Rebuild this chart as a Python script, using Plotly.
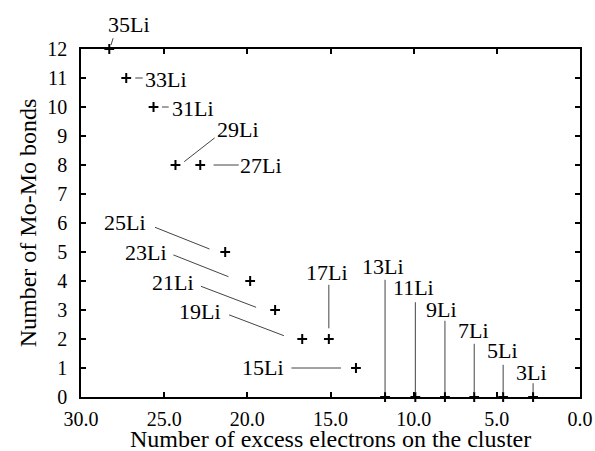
import plotly.graph_objects as go

# ---- data ----
labels = ["35Li", "33Li", "31Li", "29Li", "27Li", "25Li", "23Li", "21Li", "19Li",
          "17Li", "15Li", "13Li", "11Li", "9Li", "7Li", "5Li", "3Li"]
excess_electrons = [28.30, 27.28, 25.64, 24.32, 22.83, 21.33, 19.83, 18.33, 16.70,
                    15.10, 13.47, 11.72, 9.90, 8.12, 6.36, 4.62, 2.82]
mo_mo_bonds = [12, 11, 10, 8, 8, 5, 4, 3, 2, 2, 1, 0, 0, 0, 0, 0, 0]
x_ticks = [30, 25, 20, 15, 10, 5, 0]
y_ticks = list(range(0, 13))
x_title = "Number of excess electrons on the cluster"
y_title = "Number of Mo-Mo bonds"

# ---- label placement (pixel offsets from each point; +dx right, +dy down) ----
text_offset = [(20, -25), (40, 1), (39, 1), (63, -36), (61, 0), (-100, -30), (-104, -29),
               (-102, -28), (-102, -28), (-2, -67), (-93, -1), (-2, -131), (-1.5, -110),
               (-3, -88), (-1, -67), (-1, -47), (-2, -25)]
line_near = [(1.7, -4), (9, 0), (8.4, 0), (8.7, -3.3), (13.3, 0), (-15.7, -3), (-21.7, -4.3),
             (-19, -2.7), (-18.3, -3.3), (0, -10.7), (-15, 0), (0, -4), (0, -4), (0, -4),
             (0, -4), (0, -4), (0, -4)]
line_far = [(4.3, -12.3), (18, 0), (16.7, 0), (40.7, -28.3), (40, 0), (-71.7, -25.3),
            (-78.3, -26.7), (-75.7, -24.3), (-74.6, -24.7), (0, -55.7), (-66, 0),
            (0, -118.7), (0, -96.3), (0, -77.7), (0, -54.7), (0, -33.7), (0, -15.3)]

FONT = "Liberation Serif, Times New Roman, serif"

fig = go.Figure()
fig.add_trace(go.Scatter(
    x=excess_electrons, y=mo_mo_bonds, mode="markers",
    marker=dict(symbol="cross-thin", size=7, line=dict(color="black", width=2)),
    cliponaxis=False, showlegend=False, hoverinfo="skip"))

annotations = []
for i, lab in enumerate(labels):
    xv, yv = excess_electrons[i], mo_mo_bonds[i]
    tdx, tdy = text_offset[i]
    annotations.append(dict(x=xv, y=yv, xref="x", yref="y", text=lab, showarrow=False,
                            xshift=tdx, yshift=-tdy, xanchor="center", yanchor="middle",
                            font=dict(family=FONT, size=22, color="black")))
    ndx, ndy = line_near[i]
    fdx, fdy = line_far[i]
    annotations.append(dict(x=xv, y=yv, xref="x", yref="y", text="", showarrow=True,
                            arrowhead=0, arrowwidth=1, arrowcolor="#444", standoff=0,
                            xshift=ndx, yshift=-ndy, ax=fdx - ndx, ay=fdy - ndy,
                            axref="pixel", ayref="pixel"))

# x-axis title placed as a paper-anchored text for exact vertical position
annotations.append(dict(x=0.5, y=0, xref="paper", yref="paper", text=x_title,
                        showarrow=False, xanchor="center", yanchor="middle", yshift=-42,
                        font=dict(family=FONT, size=24, color="black")))

axis_common = dict(showline=True, linecolor="black", linewidth=1.5, mirror="ticks",
                   ticks="inside", ticklen=5, tickwidth=1.5, tickcolor="black",
                   showgrid=False, zeroline=False, automargin=False,
                   ticklabeloverflow="allow",
                   tickfont=dict(family=FONT, size=20, color="black"))

fig.update_layout(
    width=595, height=451,
    margin=dict(l=81, r=15, t=49, b=54),
    paper_bgcolor="white", plot_bgcolor="white",
    font=dict(family=FONT, size=20, color="black"),
    annotations=annotations,
    xaxis=dict(range=[30, 0], tickvals=x_ticks, tickformat=".1f",
               ticklabelstandoff=3, **axis_common),
    yaxis=dict(range=[0, 12], tickvals=y_ticks,
               title=dict(text=y_title, font=dict(family=FONT, size=24), standoff=4),
               ticklabelstandoff=8, **axis_common),
)

# remove the default page margin so the 595x451 figure fills the window exactly
fig.write_html("out.html",
               config={"displayModeBar": False},
               post_script="document.body.style.margin='0';"
                           "document.body.style.overflow='hidden';")
